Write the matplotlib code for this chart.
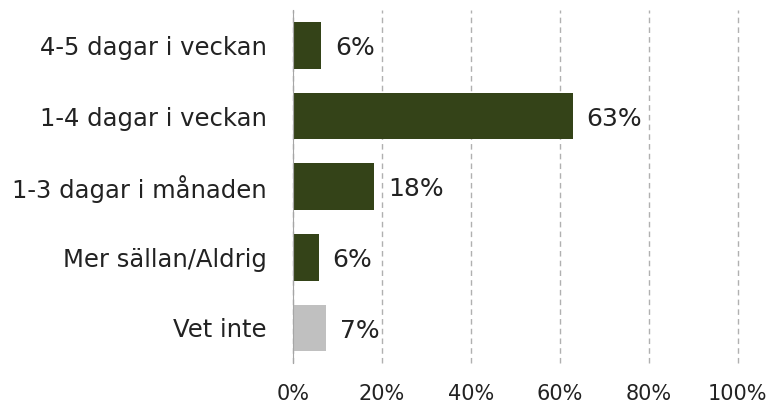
import numpy as np
import matplotlib.pyplot as plt

# Data ------------------------------------------------------------------------

categories = ['4-5 dagar i veckan', '1-4 dagar i veckan', '1-3 dagar i månaden',
              'Mer sällan/Aldrig', 'Vet inte']
values = [6.3, 62.9, 18.3, 5.8, 7.4]
labels = ['6%', '63%', '18%', '6%', '7%']
colors = ['#344318', '#344318', '#344318', '#344318', '#c0c0c0']
xticks = [0, 20, 40, 60, 80, 100]

# Figure ----------------------------------------------------------------------

plt.rcParams['font.family'] = ['DejaVu Sans']
fig = plt.figure(figsize=(7.75, 4.08), dpi=100)
ax = fig.add_axes([0.378, 0.11, 0.574, 0.865])

y = np.arange(len(categories))
ax.barh(y, values, height=0.66, color=colors, zorder=3)

for yi, v, lab in zip(y, values, labels):
    ax.annotate(lab, (v, yi), xytext=(10, -2), textcoords='offset points',
                ha='left', va='center', fontsize=18, color='#222222')

ax.set_xlim(0, 100)
ax.set_ylim(len(categories) - 0.5, -0.5)
ax.set_yticks(y)
ax.set_yticklabels(categories, fontsize=17.5, color='#222222')
ax.set_xticks(xticks)
ax.set_xticklabels([f'{t}%' for t in xticks], fontsize=15, color='#222222')
ax.tick_params(axis='both', length=0)
ax.tick_params(axis='x', pad=15)
ax.tick_params(axis='y', pad=19)

ax.grid(axis='x', color='#b0b0b0', linestyle=(0, (4, 3)), linewidth=1, zorder=0)
for gl in ax.get_xgridlines():
    gl.set_clip_on(False)
for s in ['top', 'right', 'bottom']:
    ax.spines[s].set_visible(False)
ax.spines['left'].set_color('#a6a6a6')
ax.spines['left'].set_zorder(4)

fig.savefig('out.png', dpi=100)
